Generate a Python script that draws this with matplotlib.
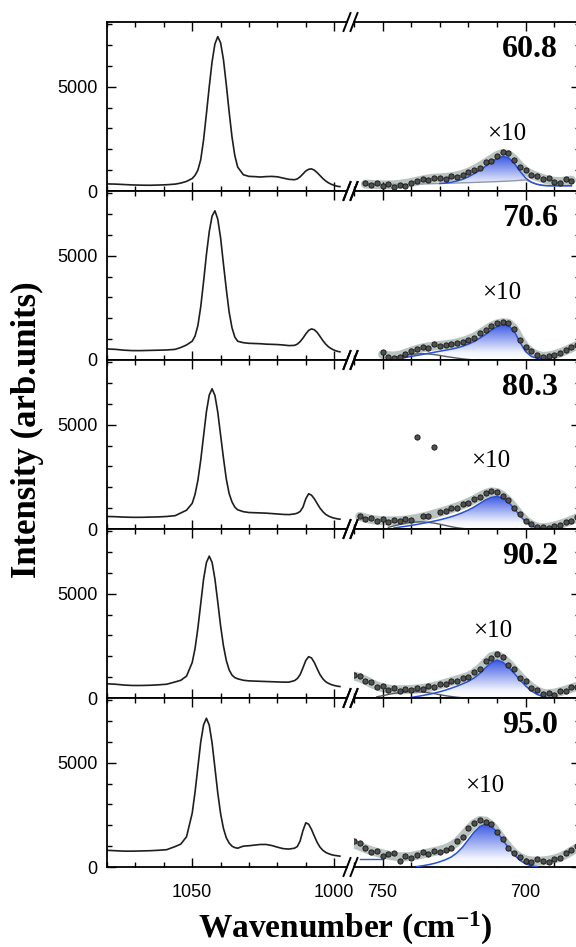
import numpy as np
import matplotlib
matplotlib.use("Agg")
import matplotlib.pyplot as plt
from matplotlib.colors import LinearSegmentedColormap
from matplotlib.lines import Line2D
from matplotlib.path import Path
from matplotlib.patches import PathPatch
from matplotlib.ticker import MultipleLocator

plt.rcParams['font.family'] = ['Liberation Sans', 'DejaVu Sans']
plt.rcParams['mathtext.fontset'] = 'custom'
plt.rcParams['mathtext.rm'] = 'Liberation Serif:bold'
plt.rcParams['mathtext.bf'] = 'Liberation Serif:bold'
plt.rcParams['mathtext.it'] = 'Liberation Serif:bold'

N = np.nan

labels = ["60.8", "70.6", "80.3", "90.2", "95.0"]

# high wavenumber region (raw intensity)
wn_lo = [1080, 1077, 1074, 1071, 1068, 1065, 1062, 1059, 1056, 1054, 1052, 1050, 1049, 1048,
         1047, 1046, 1045, 1044, 1043, 1042, 1041, 1040, 1039, 1038, 1037, 1036, 1035, 1034,
         1032, 1030, 1028, 1026, 1024, 1022, 1020, 1018, 1016, 1014, 1013, 1012, 1011, 1010,
         1009, 1008, 1007, 1006, 1005, 1004, 1003, 1002, 1001, 1000, 999, 998]

i_608 = [340, 330, 310, 290, 280, 275, 285, 300, 330, 380, 460, 600, 750, 1000, 1500, 2450, 3700,
         5000, 6200, 7050, 7400, 7100, 6300, 5100, 3800, 2600, 1700, 1150, 780, 700, 690, 670,
         690, 700, 680, 620, 560, 540, 580, 680, 820, 960, 1040, 1060, 1000, 880, 740, 600, 480,
         390, 320, 270, 230, 210]
i_706 = [530, 510, 470, 450, 450, 460, 470, 480, 510, 600, 720, 900, 1150, 1650, 2550, 3750, 5050,
         6150, 6900, 7150, 6750, 5850, 4600, 3400, 2300, 1550, 1100, 900, 830, 800, 790, 780, 760,
         750, 740, 720, 690, 700, 760, 880, 1050, 1250, 1420, 1490, 1450, 1320, 1130, 930, 760,
         630, 540, 470, 420, 390]
i_803 = [600, 590, 570, 560, 560, 570, 580, 600, 640, 770, 900, 1230, 1660, 2330, 3300, 4460,
         5620, 6420, 6720, 6400, 5600, 4500, 3400, 2400, 1700, 1300, 1050, 920, 830, 790, 780,
         770, 760, 740, 720, 700, 690, 720, 760, 840, 1050, 1450, 1690, 1620, 1450, 1220, 1000,
         830, 700, 620, 560, 520, 490, 470]
i_902 = [680, 660, 620, 600, 600, 610, 630, 660, 770, 850, 1050, 1700, 2370, 3350, 4520, 5690,
         6490, 6800, 6500, 5700, 4600, 3450, 2500, 1800, 1350, 1100, 980, 920, 850, 820, 810, 800,
         790, 780, 770, 760, 760, 830, 930, 1120, 1450, 1800, 1980, 1920, 1700, 1400, 1120, 920,
         780, 700, 640, 600, 570, 550]
i_950 = [800, 780, 760, 760, 770, 780, 800, 830, 980, 1100, 1450, 2580, 3590, 4790, 5990, 6810,
         7130, 6800, 5950, 4750, 3550, 2550, 1850, 1400, 1150, 1000, 930, 900, 1000, 1020, 1050,
         1080, 1080, 1030, 950, 880, 860, 900, 980, 1250, 1750, 2120, 2050, 1800, 1480, 1180, 950,
         800, 700, 640, 590, 560, 540, 520]
spec = [i_608, i_706, i_803, i_902, i_950]

# low wavenumber region (x10), points on a 2 cm-1 grid from 760 to 680
wn_hi = np.arange(760, 679, -2)

pts_608 = [N, N, 360, 300, 360, 240, 330, 180, 290, 230, 380, 470, 560, 520, 640, 600, 580, 700,
           680, 760, 920, 1000, 1120, 1380, 1460, 1700, 1850, 1820, 1500, 1150, 1000, 760, 700,
           560, 600, 420, 380, 560, 500, N, N]
pts_706 = [N, N, N, N, N, 380, 140, 100, 160, 300, 420, 520, 620, 580, 780, 660, 700, 760, 800,
           880, 960, 1060, 1280, 1450, 1650, 1750, 1800, 1790, 1500, 950, 620, 420, 230, 120,
           180, 230, 330, 460, 600, 720, N]
pts_803 = [N, 640, 500, 520, 380, 460, 350, 420, 360, 460, 420, 4400, 600, 620, 3950, 800, 860,
           1000, 1020, 1180, 1250, 1440, 1520, 1720, 1820, 1760, 1580, 1380, 1000, 700, 380, 230,
           80, 100, 40, 160, 200, 330, 380, 560, N]
pts_902 = [1100, 1050, 820, 760, 520, 560, 400, 460, 330, 420, 380, 470, 420, 560, 520, 680, 660,
           830, 820, 980, 1000, 1250, 1380, 1750, 1920, 2100, 1960, 1600, 1400, 980, 820, 480,
           380, 200, 250, 160, 330, 340, 520, 520, N]
pts_950 = [1250, 1150, 920, 700, 780, 540, 620, 660, 300, 520, 450, 560, 700, 640, 780, 700, 820,
           900, 1250, 1420, 1850, 2100, 2250, 2180, 2050, 1700, 1350, 920, 650, 460, 300, 250,
           380, 300, 260, 370, 420, 650, 800, 1000, N]
pts = [pts_608, pts_706, pts_803, pts_902, pts_950]

fit_608 = [N, N, 330, 320, 300, 290, 290, 300, 320, 360, 410, 470, 530, 580, 610, 630, 650, 680,
           730, 800, 900, 1030, 1180, 1350, 1530, 1700, 1800, 1750, 1520, 1200, 950, 800, 690,
           600, 520, 460, 450, 480, 520, N, N]
fit_706 = [N, N, N, N, N, 260, 200, 190, 230, 320, 420, 510, 580, 630, 670, 700, 730, 770, 820,
           890, 980, 1100, 1260, 1440, 1610, 1730, 1790, 1760, 1500, 1000, 600, 370, 230, 170,
           190, 250, 340, 450, 580, 700, 800]
fit_803 = [N, 600, 520, 460, 420, 400, 390, 390, 400, 420, 460, 510, 570, 640, 720, 800, 880, 970,
           1060, 1160, 1280, 1410, 1560, 1700, 1780, 1750, 1600, 1350, 1020, 680, 400, 200, 90,
           60, 80, 140, 220, 310, 420, 540, 640]
fit_902 = [1050, 980, 850, 700, 580, 490, 430, 400, 390, 400, 410, 430, 460, 500, 560, 630, 710,
           790, 870, 950, 1040, 1200, 1420, 1700, 1980, 2050, 1900, 1650, 1350, 1030, 760, 520,
           340, 230, 200, 230, 300, 380, 470, 560, 630]
fit_950 = [1100, 1000, 880, 780, 700, 630, 570, 520, 490, 490, 510, 560, 620, 680, 740, 800, 880,
           1000, 1200, 1480, 1800, 2080, 2230, 2200, 2000, 1680, 1300, 950, 660, 460, 340, 290,
           280, 290, 320, 380, 470, 600, 760, 920, 1050]
fit = [fit_608, fit_706, fit_803, fit_902, fit_950]

# main fitted band (blue) and the weaker side component
band_608 = [N] * 15 + [360, 380, 420, 480, 560, 680, 830, 1000, 1190, 1390, 1560, 1660, 1600,
                       1330, 950, 620, 420, 320, 270, 250, 250, 250, 250, 250, N, N]
band_706 = [N] * 8 + [60, 120, 170, 220, 270, 320, 370, 420, 470, 520, 580, 660, 760, 890, 1050,
                      1230, 1430, 1600, 1690, 1650, 1380, 850, 400, 170, 80, 60, 40] + [N] * 6
band_803 = [N] * 7 + [50, 90, 130, 170, 220, 270, 320, 380, 440, 510, 590, 680, 790, 910, 1060,
                      1230, 1400, 1520, 1560, 1480, 1280, 980, 640, 340, 140, 50] + [N] * 8
band_902 = [N] * 10 + [30, 70, 120, 170, 230, 300, 380, 470, 570, 680, 800, 960, 1180, 1450,
                       1700, 1820, 1720, 1480, 1180, 870, 580, 340, 170, 70, 20] + [N] * 6
band_950 = [N] * 11 + [20, 60, 110, 170, 250, 350, 480, 680, 960, 1320, 1680, 1950, 2050, 1950,
                       1680, 1300, 920, 580, 320, 150, 60, 20] + [N] * 8
band = [band_608, band_706, band_803, band_902, band_950]

side_608 = [N, N, 300, 303, 306, 310, 313, 316, 320, 323, 330, 335, 340, 345, 352, 360, 368, 376,
            385, 393, 400, 410, 420, 430, 440, 450, 462, 475, 490, 510, 530, 420, 320, 270, 250,
            250, 250, 250, 250, N, N]
side_706 = [N] * 7 + [120, 180, 230, 270, 290, 300, 290, 260, 220, 170, 130, 90, 55, 25, 5] + [N] * 19
side_803 = [N] * 6 + [80, 150, 220, 280, 320, 340, 340, 320, 280, 230, 170, 110, 60, 25, 5] + [N] * 20
side_902 = [N] * 4 + [60, 110, 170, 220, 260, 290, 300, 300, 280, 250, 210, 160, 110, 70, 35,
                      10] + [N] * 21
side_950 = [N, 370, 370, 370, 370, 370] + [N] * 35
side = [side_608, side_706, side_803, side_902, side_950]
side_colors = ["#8d99a8", "#555a60", "#555a60", "#555a60", "#2f55d8"]

x10_pos = [(706.6, 2750), (708.4, 3230), (712.2, 3280), (711.5, 3230), (714.3, 3860)]

W, H = 576, 947
fig = plt.figure(figsize=(W / 100, H / 100), dpi=100)

top0, ph = 22, 169
xl0, xl1 = 107, 347
xr0, xr1 = 354, 580

fade = LinearSegmentedColormap.from_list(
    "fade", [(0.0, "#ffffff"), (0.2, "#f3f5fe"), (1.0, "#3a58e2")])
grad = np.linspace(0, 1, 256).reshape(-1, 1)


def style(ax, bottom_labels):
    ax.set_ylim(0, 8100)
    ax.xaxis.set_major_locator(MultipleLocator(50))
    ax.xaxis.set_minor_locator(MultipleLocator(10))
    ax.yaxis.set_major_locator(MultipleLocator(5000))
    ax.yaxis.set_minor_locator(MultipleLocator(1000))
    ax.tick_params(which='both', direction='in', top=True, bottom=True, width=1.0,
                   labelsize=13, labelbottom=bottom_labels)
    ax.tick_params(which='major', length=6.5)
    ax.tick_params(which='minor', length=3.5)
    ax.tick_params(axis='x', pad=12)
    ax.tick_params(axis='y', pad=7)
    for s in ax.spines.values():
        s.set_linewidth(1.3)


for k in range(5):
    top = top0 + k * ph
    bot = top + ph
    y0 = 1 - bot / H
    last = (k == 4)

    axl = fig.add_axes([xl0 / W, y0, (xl1 - xl0) / W, ph / H])
    axr = fig.add_axes([xr0 / W, y0, (xr1 - xr0) / W, ph / H])

    axl.plot(wn_lo, spec[k], color="#1e1e1e", lw=1.2)

    x = wn_hi
    f = np.array(fit[k], dtype=float)
    b = np.array(band[k], dtype=float)
    sd = np.array(side[k], dtype=float)
    s0 = np.nan_to_num(sd)

    axr.plot(x, f, color="#b9c4c0", lw=6.5, solid_capstyle='round', zorder=1)

    # gradient-filled band, clipped to the area between side component and band
    inside = np.where(~np.isnan(b) & (np.nan_to_num(b) > s0))[0]
    i0, i1 = inside.min(), inside.max()
    xm = x[i0:i1 + 1]
    hi = b[i0:i1 + 1]
    lo = np.minimum(s0[i0:i1 + 1], hi)
    verts = np.concatenate([np.column_stack([xm, hi]), np.column_stack([xm[::-1], lo[::-1]])])
    patch = PathPatch(Path(verts), facecolor='none', edgecolor='none', transform=axr.transData)
    axr.add_patch(patch)
    im = axr.imshow(grad, cmap=fade, aspect='auto', origin='lower',
                    extent=[xm.max(), xm.min(), 0, hi.max()], zorder=2)
    im.set_clip_path(patch)

    axr.plot(x, sd, color=side_colors[k], lw=1.0, zorder=3)
    axr.plot(x, b, color="#2a50d6", lw=1.1, zorder=3.5)
    axr.plot(x, pts[k], 'o', ms=3.8, mfc="#505050", mec="#111111", mew=0.6, zorder=4)

    style(axl, last)
    style(axr, last)
    axl.set_xlim(1080, 995.5)
    axr.set_xlim(760, 681)
    axl.spines['right'].set_visible(False)
    axr.spines['left'].set_visible(False)
    axl.tick_params(axis='y', which='both', left=True, right=False)
    axr.tick_params(axis='y', which='both', left=False, right=True, labelleft=False)

    axr.text(*x10_pos[k], "\u00d710", family="Liberation Serif", fontsize=18,
             ha='center', va='center')
    axr.text(0.903, 0.835, labels[k], transform=axr.transAxes, family="Liberation Serif",
             fontsize=23, fontweight='bold', ha='right', va='center')

    # axis break marks
    for yy in (top, bot):
        for xx in (xl1, xr0):
            fig.add_artist(Line2D([(xx - 3.5) / W, (xx + 3.5) / W],
                                  [1 - (yy + 9) / H, 1 - (yy - 9) / H],
                                  transform=fig.transFigure, color='k', lw=1.4))

fig.text(27 / W, 1 - 430 / H, "Intensity (arb.units)", rotation=90, family="Liberation Serif",
         fontsize=25, fontweight='bold', ha='center', va='center')
fig.text(345 / W, 1 - 928 / H, "Wavenumber (cm$^{-1}$)", family="Liberation Serif",
         fontsize=24, fontweight='bold', ha='center', va='center')

fig.savefig("out.png", dpi=100)
